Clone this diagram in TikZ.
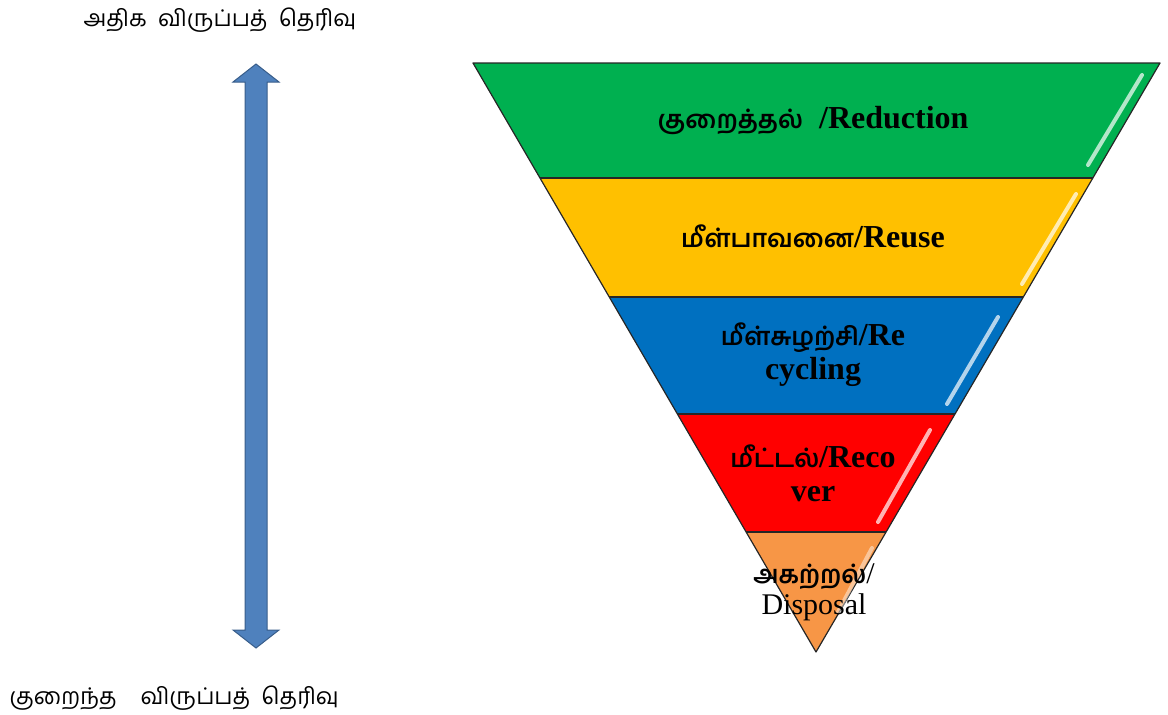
\documentclass[tikz,border=0pt]{standalone}
\usepackage{fontspec}
\setmainfont{Liberation Serif}
\newfontfamily\tamil[Script=Tamil]{Hind Madurai}
\usepackage{tikz}
\usetikzlibrary{calc}
\definecolor{bandgreen}{RGB}{0,176,80}
\definecolor{bandyellow}{RGB}{255,192,0}
\definecolor{bandblue}{RGB}{0,112,192}
\definecolor{bandred}{RGB}{255,0,0}
\definecolor{bandorange}{RGB}{247,150,70}
\definecolor{arrowblue}{RGB}{79,129,189}
\definecolor{arrowline}{RGB}{56,93,138}
\newcommand\tm[1]{{\tamil\fontsize{25}{34}\selectfont #1}}
\tikzstyle{band}=[draw=black!85,line width=1.2pt,line join=round]
\tikzstyle{gloss}=[white,opacity=.7,line width=4pt,line cap=round]
\tikzstyle{lbl}=[font=\bfseries\fontsize{32}{34}\selectfont,align=center,inner sep=1pt]
\tikzstyle{side}=[font=\tamil\fontsize{23}{26}\selectfont,anchor=west]

\begin{document}
\begin{tikzpicture}[x=1pt,y=-1pt]
	\useasboundingbox (0,0) rectangle (1168,715);
	\coordinate (TL) at (473,63);
	\coordinate (TR) at (1160,63);
	\coordinate (Ap) at (816,652);
	\foreach \n/\f in {1/.1952,2/.3973,3/.5959,4/.7963}{
		\coordinate (L\n) at ($(TL)!\f!(Ap)$);
		\coordinate (R\n) at ($(TR)!\f!(Ap)$);
	}
	% bands
	\fill[bandgreen]  (TL) -- (TR) -- (R1) -- (L1) -- cycle;
	\fill[bandyellow] (L1) -- (R1) -- (R2) -- (L2) -- cycle;
	\fill[bandblue]   (L2) -- (R2) -- (R3) -- (L3) -- cycle;
	\fill[bandred]    (L3) -- (R3) -- (R4) -- (L4) -- cycle;
	\fill[bandorange] (L4) -- (R4) -- (Ap) -- cycle;
	\draw[band] (TL) -- (TR) -- (Ap) -- cycle;
	\foreach \n in {1,...,4} \draw[band] (L\n) -- (R\n);
	% gloss
	\draw[gloss] (1088,165) -- (1142,75);
	\draw[gloss] (1022,284) -- (1076,194);
	\draw[gloss] (947,404) -- (998,317);
	\draw[gloss] (878,522) -- (930,430);
	\draw[gloss,opacity=.45] (838,612) -- (872,548);
	% labels
	\node[lbl] (red)  at (813,121) {\tm{குறைத்தல்}\ \ /Reduction};
	\node[lbl] (reu)  at (813,236) {\tm{மீள்பாவனை}/Reuse};
	\node[lbl] (rec)  at (813,355) {\tm{மீள்சுழற்சி}/Re\\cycling};
	\node[lbl] (rcv)  at (813,473) {\tm{மீட்டல்}/Reco\\ver};
	\node[lbl,font=\fontsize{30}{31}\selectfont] (dis) at (814,592) {\tm{\bfseries அகற்றல்}/\\Disposal};
	% preference arrow
	\fill[arrowblue,draw=arrowline,line width=1pt]
		(256,64) -- (279,82) -- (267,82) -- (267,630) -- (279,630) -- (256,648)
		-- (233,630) -- (245,630) -- (245,82) -- (233,82) -- cycle;
	\node[side] (hi) at (80,20)  {அதிக\ \ விருப்பத்\ \ தெரிவு};
	\node[side] (lo) at (6,698) {குறைந்த\hspace{24pt}விருப்பத்\ \ தெரிவு};
\end{tikzpicture}
\end{document}
